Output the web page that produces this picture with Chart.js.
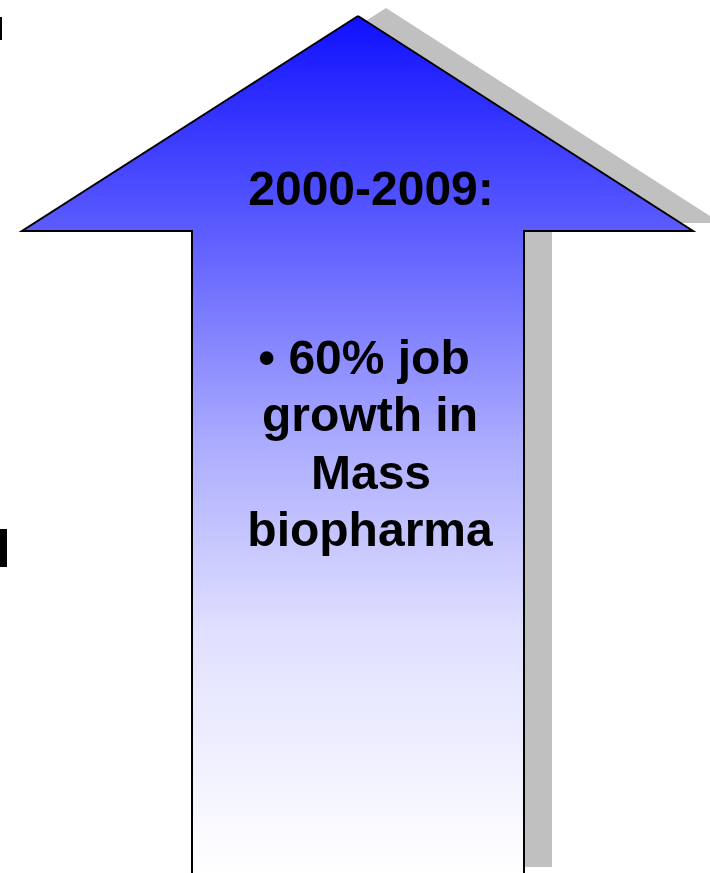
<!DOCTYPE html>
<html>
<head>
<meta charset="utf-8">
<script src="https://cdn.jsdelivr.net/npm/chart.js@4.4.0/dist/chart.umd.min.js"></script>
<style>
  html, body { margin: 0; padding: 0; background: #fff; }
  canvas { display: block; }
</style>
</head>
<body>
<canvas id="myChart" width="710" height="873"></canvas>
<script>
// arrow outline (tip, head corners, shaft)
const arrowX = [358, 693, 524, 524, 192, 192, 22, 358];
const arrowY = [16, 231, 231, 875, 875, 231, 231, 16];

// bits of cut-off text at the left edge
const edgeLineX = [0, 2, 2, 0, 0];
const edgeLineY = [17, 17, 40, 40, 17];
const edgeBlockX = [0, 7, 7, 0, 0];
const edgeBlockY = [529, 529, 567, 567, 529];

// texts
const titleText = '2000-2009:';
const bulletLines = ['\u2022 60% job', 'growth in', 'Mass', 'biopharma'];

// layout
const shadowDx = 28;
const shadowDy = -8;
const titlePos = { x: 371, y: 205 };
const linesX = [364, 370, 371, 370];
const linesY = [374, 431, 489, 546];

function toPoints(xs, ys, dx = 0, dy = 0) {
  return xs.map((x, i) => ({ x: x + dx, y: ys[i] + dy }));
}

function arrowGradient(context) {
  const chart = context.chart;
  const area = chart.chartArea;
  if (!area || !isFinite(area.top) || !isFinite(area.bottom)) return '#5c5cff';
  const h = area.bottom - area.top;
  const top = area.top + h * 16 / 873;
  const g = chart.ctx.createLinearGradient(0, top, 0, area.bottom);
  g.addColorStop(0, 'rgb(16,16,255)');
  g.addColorStop(0.25, 'rgb(92,92,255)');
  g.addColorStop(0.5, 'rgb(172,172,255)');
  g.addColorStop(0.72, 'rgb(224,224,255)');
  g.addColorStop(1, 'rgb(255,255,255)');
  return g;
}

const textPlugin = {
  id: 'arrowText',
  afterDatasetsDraw(chart) {
    const { ctx, scales } = chart;
    ctx.save();
    ctx.fillStyle = '#000';
    ctx.textAlign = 'center';
    ctx.textBaseline = 'alphabetic';
    ctx.font = 'bold 48px "Liberation Sans", Arial, sans-serif';
    ctx.fillText(titleText, scales.x.getPixelForValue(titlePos.x), scales.y.getPixelForValue(titlePos.y));
    bulletLines.forEach((line, i) => {
      ctx.fillText(line, scales.x.getPixelForValue(linesX[i]), scales.y.getPixelForValue(linesY[i]));
    });
    ctx.restore();
  }
};

const ctx = document.getElementById('myChart').getContext('2d');
new Chart(ctx, {
  type: 'scatter',
  data: {
    datasets: [
      {
        label: 'arrow',
        order: 0,
        data: toPoints(arrowX, arrowY),
        showLine: true,
        fill: 'shape',
        backgroundColor: arrowGradient,
        borderColor: '#000',
        borderWidth: 2,
        borderJoinStyle: 'miter',
        pointRadius: 0,
        tension: 0
      },
      {
        label: 'shadow',
        order: 1,
        data: toPoints(arrowX, arrowY, shadowDx, shadowDy),
        showLine: true,
        fill: 'shape',
        backgroundColor: '#c0c0c0',
        borderWidth: 0,
        borderColor: 'rgba(0,0,0,0)',
        pointRadius: 0,
        tension: 0
      },
      {
        label: 'edge line',
        data: toPoints(edgeLineX, edgeLineY),
        showLine: true,
        fill: 'shape',
        backgroundColor: '#000',
        borderWidth: 0,
        pointRadius: 0
      },
      {
        label: 'edge block',
        data: toPoints(edgeBlockX, edgeBlockY),
        showLine: true,
        fill: 'shape',
        backgroundColor: '#000',
        borderWidth: 0,
        pointRadius: 0
      }
    ]
  },
  options: {
    responsive: false,
    animation: false,
    layout: { padding: 0 },
    clip: false,
    plugins: {
      legend: { display: false },
      tooltip: { enabled: false }
    },
    scales: {
      x: { type: 'linear', min: 0, max: 710, display: false },
      y: { type: 'linear', min: 0, max: 873, reverse: true, display: false }
    }
  },
  plugins: [textPlugin]
});
</script>
</body>
</html>
